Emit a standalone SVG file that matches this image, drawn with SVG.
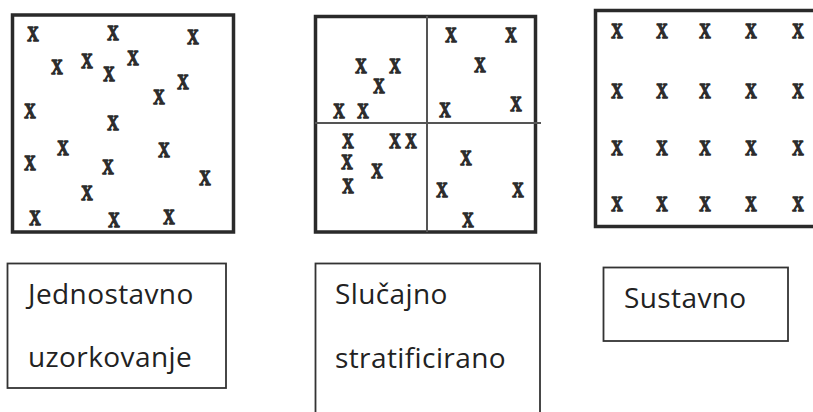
<svg xmlns="http://www.w3.org/2000/svg" xmlns:xlink="http://www.w3.org/1999/xlink" width="813" height="412" viewBox="0 0 813 412">
  <style>
    .frame { fill: #fff; stroke: #2a2a2a; stroke-width: 3.5; }
    .split { stroke: #555; stroke-width: 2; fill: none; }
    .label-box { fill: #fff; stroke: #333; stroke-width: 1.8; }
    .label { font-family: "Open Sans", "Noto Sans", sans-serif; font-size: 28px; letter-spacing: 0.4px; fill: #222; }
    .mk { font-family: "Liberation Serif", serif; font-weight: bold; font-size: 22px; fill: #2b2b2b; stroke: #2b2b2b; stroke-width: 1.3; stroke-linejoin: round; text-anchor: middle; }
  </style>
  <defs>
    <!-- sample point marker: narrowed bold serif X, centred on its origin -->
    <text id="m" class="mk" x="0" y="7.5" transform="scale(0.72,1)">X</text>
  </defs>

  <rect width="813" height="412" fill="#fff"/>

  <!-- simple random sampling -->
  <g id="simple-random">
    <rect class="frame" x="12.5" y="15" width="221" height="217"/>
    <use xlink:href="#m" x="33" y="33"/>
    <use xlink:href="#m" x="113" y="32"/>
    <use xlink:href="#m" x="193" y="36"/>
    <use xlink:href="#m" x="57" y="66"/>
    <use xlink:href="#m" x="87" y="60"/>
    <use xlink:href="#m" x="109" y="73"/>
    <use xlink:href="#m" x="133" y="57"/>
    <use xlink:href="#m" x="183" y="81"/>
    <use xlink:href="#m" x="159" y="96"/>
    <use xlink:href="#m" x="30" y="110"/>
    <use xlink:href="#m" x="113" y="122"/>
    <use xlink:href="#m" x="63" y="147"/>
    <use xlink:href="#m" x="164" y="149"/>
    <use xlink:href="#m" x="30" y="162"/>
    <use xlink:href="#m" x="108" y="166"/>
    <use xlink:href="#m" x="205" y="177"/>
    <use xlink:href="#m" x="87" y="192"/>
    <use xlink:href="#m" x="35" y="217"/>
    <use xlink:href="#m" x="114" y="219"/>
    <use xlink:href="#m" x="169" y="216"/>
  </g>

  <!-- stratified random sampling: four strata -->
  <g id="stratified">
    <rect class="frame" x="315.5" y="16.5" width="220" height="215.5"/>
    <line class="split" x1="427" y1="16" x2="427" y2="232"/>
    <line class="split" x1="315" y1="123" x2="541" y2="123"/>
    <use xlink:href="#m" x="361" y="65"/>
    <use xlink:href="#m" x="395" y="65"/>
    <use xlink:href="#m" x="379" y="85"/>
    <use xlink:href="#m" x="339" y="110"/>
    <use xlink:href="#m" x="363" y="110"/>
    <use xlink:href="#m" x="451" y="34"/>
    <use xlink:href="#m" x="511" y="34"/>
    <use xlink:href="#m" x="480" y="64"/>
    <use xlink:href="#m" x="445" y="109"/>
    <use xlink:href="#m" x="516" y="103"/>
    <use xlink:href="#m" x="348" y="140"/>
    <use xlink:href="#m" x="395" y="140"/>
    <use xlink:href="#m" x="411" y="140"/>
    <use xlink:href="#m" x="347" y="161"/>
    <use xlink:href="#m" x="377" y="170"/>
    <use xlink:href="#m" x="348" y="185"/>
    <use xlink:href="#m" x="466" y="157"/>
    <use xlink:href="#m" x="442" y="189"/>
    <use xlink:href="#m" x="518" y="189"/>
    <use xlink:href="#m" x="468" y="219"/>
  </g>

  <!-- systematic sampling: regular grid -->
  <g id="systematic">
    <rect class="frame" x="595.5" y="10.5" width="240" height="216"/>
    <use xlink:href="#m" x="617" y="30"/>
    <use xlink:href="#m" x="662" y="30"/>
    <use xlink:href="#m" x="705" y="30"/>
    <use xlink:href="#m" x="751" y="30"/>
    <use xlink:href="#m" x="798" y="30"/>
    <use xlink:href="#m" x="617" y="90"/>
    <use xlink:href="#m" x="662" y="90"/>
    <use xlink:href="#m" x="705" y="90"/>
    <use xlink:href="#m" x="751" y="90"/>
    <use xlink:href="#m" x="798" y="90"/>
    <use xlink:href="#m" x="617" y="147"/>
    <use xlink:href="#m" x="662" y="147"/>
    <use xlink:href="#m" x="705" y="147"/>
    <use xlink:href="#m" x="751" y="147"/>
    <use xlink:href="#m" x="798" y="147"/>
    <use xlink:href="#m" x="617" y="203"/>
    <use xlink:href="#m" x="662" y="203"/>
    <use xlink:href="#m" x="705" y="203"/>
    <use xlink:href="#m" x="751" y="203"/>
    <use xlink:href="#m" x="798" y="203"/>
  </g>

  <!-- captions -->
  <g id="label-simple">
    <rect class="label-box" x="7.5" y="263.5" width="218.5" height="124.5"/>
    <text class="label" x="28" y="304">Jednostavno</text>
    <text class="label" x="28" y="367">uzorkovanje</text>
  </g>
  <g id="label-stratified">
    <rect class="label-box" x="315.5" y="263.5" width="224.5" height="160"/>
    <text class="label" x="335" y="304">Slučajno</text>
    <text class="label" x="335" y="368">stratificirano</text>
  </g>
  <g id="label-systematic">
    <rect class="label-box" x="603.5" y="267.5" width="184.5" height="73.5"/>
    <text class="label" x="624" y="308">Sustavno</text>
  </g>
</svg>
